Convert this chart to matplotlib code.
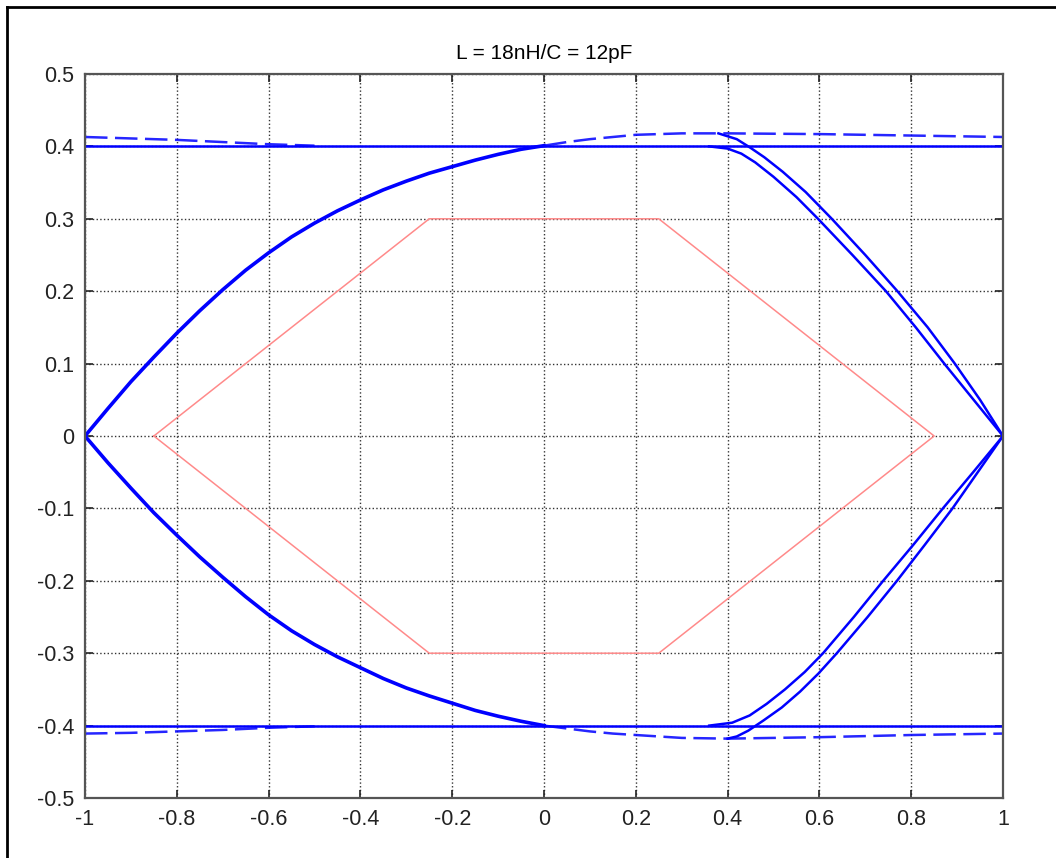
import matplotlib
matplotlib.use("Agg")
import matplotlib.pyplot as plt
from matplotlib.lines import Line2D

# 눈 다이어그램 데이터
title = "L = 18nH/C = 12pF"

# 정상 상태 레벨
high_x = [-1.0, 1.0]
high_y = [0.40, 0.40]
low_x = [-1.0, 1.0]
low_y = [-0.40, -0.40]

# 왼쪽 상승 곡선 (-1,0) -> (0,0.4)
rise_x = [-1.0, -0.95, -0.9, -0.85, -0.8, -0.75, -0.7, -0.65, -0.6, -0.55, -0.5, -0.45,
          -0.4, -0.35, -0.3, -0.25, -0.2, -0.15, -0.1, -0.05, 0.0]
rise_y = [0.0, 0.038, 0.075, 0.109, 0.142, 0.173, 0.202, 0.229, 0.253, 0.275, 0.294, 0.311,
          0.326, 0.340, 0.352, 0.363, 0.372, 0.381, 0.389, 0.396, 0.401]

# 왼쪽 하강 곡선 (-1,0) -> (0,-0.4)
fall_x = [-1.0, -0.95, -0.9, -0.85, -0.8, -0.75, -0.7, -0.65, -0.6, -0.55, -0.5, -0.45,
          -0.4, -0.35, -0.3, -0.25, -0.2, -0.15, -0.1, -0.05, 0.0]
fall_y = [0.0, -0.037, -0.072, -0.106, -0.137, -0.167, -0.195, -0.222, -0.247, -0.269, -0.288, -0.305,
          -0.320, -0.335, -0.348, -0.359, -0.369, -0.379, -0.387, -0.394, -0.40]

# 오버슈트 (점선처럼 보이는 부분)
over_hi_x = [0.0, 0.05, 0.1, 0.15, 0.2, 0.25, 0.3, 0.4, 0.6, 0.8, 1.0]
over_hi_y = [0.401, 0.406, 0.410, 0.413, 0.416, 0.417, 0.418, 0.418, 0.417, 0.415, 0.413]
over_lo_x = [0.0, 0.05, 0.1, 0.15, 0.2, 0.25, 0.3, 0.4, 0.6, 0.8, 1.0]
over_lo_y = [-0.40, -0.404, -0.408, -0.411, -0.413, -0.415, -0.417, -0.418, -0.416, -0.413, -0.411]

# 왼쪽 끝 정착 구간
settle_hi_x = [-1.0, -0.9, -0.8, -0.7, -0.6, -0.5]
settle_hi_y = [0.413, 0.411, 0.409, 0.406, 0.403, 0.401]
settle_lo_x = [-1.0, -0.9, -0.8, -0.7, -0.6, -0.5]
settle_lo_y = [-0.411, -0.410, -0.408, -0.406, -0.403, -0.401]

# 오른쪽 하강 곡선 2개
fall_in_x = [0.36, 0.40, 0.43, 0.46, 0.50, 0.55, 0.597, 0.672, 0.745, 0.810, 0.872, 0.936, 1.0]
fall_in_y = [0.40, 0.397, 0.39, 0.378, 0.358, 0.330, 0.30, 0.25, 0.20, 0.15, 0.10, 0.05, 0.0]
fall_out_x = [0.38, 0.42, 0.45, 0.48, 0.52, 0.57, 0.627, 0.700, 0.770, 0.836, 0.895, 0.950, 1.0]
fall_out_y = [0.418, 0.41, 0.398, 0.385, 0.365, 0.337, 0.30, 0.25, 0.20, 0.15, 0.10, 0.05, 0.0]

# 오른쪽 상승 곡선 2개
rise_in_x = [0.36, 0.41, 0.448, 0.485, 0.525, 0.568, 0.608, 0.675, 0.739, 0.805, 0.869, 0.935, 1.0]
rise_in_y = [-0.40, -0.396, -0.386, -0.370, -0.350, -0.326, -0.30, -0.25, -0.20, -0.15, -0.10, -0.05, 0.0]
rise_out_x = [0.40, 0.42, 0.445, 0.478, 0.518, 0.558, 0.598, 0.638, 0.705, 0.769, 0.83, 0.89, 0.945, 1.0]
rise_out_y = [-0.418, -0.415, -0.407, -0.393, -0.375, -0.353, -0.328, -0.30, -0.25, -0.20, -0.15, -0.10, -0.05, 0.0]

# 마스크 (육각형)
mask_x = [-0.85, -0.25, 0.25, 0.85, 0.25, -0.25, -0.85]
mask_y = [0.0, 0.3, 0.3, 0.0, -0.3, -0.3, 0.0]

xticks = [-1, -0.8, -0.6, -0.4, -0.2, 0, 0.2, 0.4, 0.6, 0.8, 1]
xlabels = ["-1", "-0.8", "-0.6", "-0.4", "-0.2", "0", "0.2", "0.4", "0.6", "0.8", "1"]
yticks = [-0.5, -0.4, -0.3, -0.2, -0.1, 0, 0.1, 0.2, 0.3, 0.4, 0.5]
ylabels = ["-0.5", "-0.4", "-0.3", "-0.2", "-0.1", "0", "0.1", "0.2", "0.3", "0.4", "0.5"]


def main():
    plt.rcParams['font.family'] = ['Liberation Sans', 'DejaVu Sans']

    fig = plt.figure(figsize=(10.56, 8.58), dpi=100)
    ax = fig.add_axes([85 / 1056, 1 - 798 / 858, 918 / 1056, 724 / 858])

    blue = "#0000ff"
    lw = 1.8

    #정상 상태
    ax.plot(high_x, high_y, color=blue, lw=lw)
    ax.plot(low_x, low_y, color=blue, lw=lw)

    #왼쪽 곡선 (겹친 트레이스라 조금 두껍게)
    ax.plot(rise_x, rise_y, color=blue, lw=2.6)
    ax.plot(fall_x, fall_y, color=blue, lw=2.6)

    #오버슈트와 정착 구간
    for xs, ys in [(over_hi_x, over_hi_y), (over_lo_x, over_lo_y),
                   (settle_hi_x, settle_hi_y), (settle_lo_x, settle_lo_y)]:
        ax.plot(xs, ys, color=blue, lw=lw, linestyle=(0, (9, 3)), alpha=0.85)

    #오른쪽 전이 곡선
    ax.plot(fall_in_x, fall_in_y, color=blue, lw=lw)
    ax.plot(fall_out_x, fall_out_y, color=blue, lw=lw)
    ax.plot(rise_in_x, rise_in_y, color=blue, lw=lw)
    ax.plot(rise_out_x, rise_out_y, color=blue, lw=lw)

    #마스크
    ax.plot(mask_x, mask_y, color="#ff8a8a", lw=1.1)

    ax.set_xlim(-1, 1)
    ax.set_ylim(-0.5, 0.5)
    ax.set_xticks(xticks)
    ax.set_xticklabels(xlabels)
    ax.set_yticks(yticks)
    ax.set_yticklabels(ylabels)
    ax.tick_params(direction="in", length=6, width=1.2, top=True, right=True,
                   labelsize=15.5, colors="#222222", pad=8)
    ax.grid(True, color="#333333", linestyle=":", linewidth=1.0)
    for sp in ax.spines.values():
        sp.set_color("#555555")
        sp.set_linewidth(1.6)
    ax.set_title(title, fontsize=15, pad=11)

    #바깥 테두리
    x0 = 6.5 / 1056
    y0 = 1 - 7 / 858
    fig.add_artist(Line2D([x0, x0], [0, y0], transform=fig.transFigure, color="black", lw=2.0))
    fig.add_artist(Line2D([x0, 1], [y0, y0], transform=fig.transFigure, color="black", lw=2.0))

    fig.savefig("out.png", dpi=100)


if __name__ == "__main__":
    main()
